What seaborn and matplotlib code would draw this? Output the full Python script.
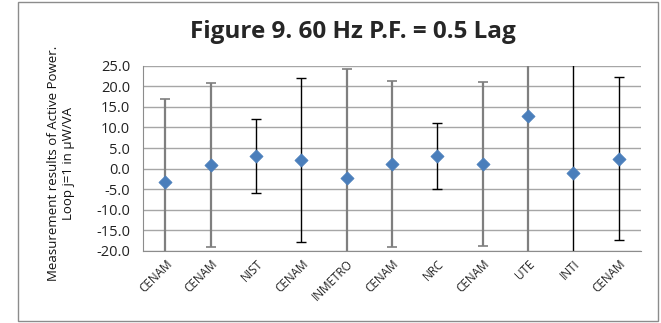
import matplotlib
matplotlib.use("Agg")
import matplotlib.pyplot as plt
import seaborn as sns
import pandas as pd
from matplotlib.patches import Rectangle

labs = ["CENAM", "CENAM", "NIST", "CENAM", "INMETRO", "CENAM", "NRC", "CENAM", "UTE", "INTI", "CENAM"]
values = [-3.4, 0.9, 3.0, 2.0, -2.2, 1.1, 3.0, 1.1, 12.8, -1.1, 2.4]
errs = [20.3, 20.0, 9.0, 20.0, 26.5, 20.1, 8.1, 20.0, 40.0, 30.0, 19.9]
err_style = ["gray", "gray", "black", "black", "gray", "gray", "black", "gray", "gray", "black", "black"]
yticks = [25.0, 20.0, 15.0, 10.0, 5.0, 0.0, -5.0, -10.0, -15.0, -20.0]

sns.set_style("white")
plt.rcParams['font.family'] = ['Open Sans', 'DejaVu Sans']

fig = plt.figure(figsize=(6.61, 3.23), dpi=100)
ax = fig.add_axes([0.216, 0.224, 0.754, 0.572])

df = pd.DataFrame({"x": range(len(labs)), "lab": labs, "v": values, "e": errs, "s": err_style})

for i, r in df.iterrows():
    if r.s == "gray":
        ax.errorbar(r.x, r.v, yerr=r.e, fmt="none", ecolor="#7f7f7f", elinewidth=1.6, capsize=3.5, capthick=1.2, zorder=2)
    else:
        ax.errorbar(r.x, r.v, yerr=r.e, fmt="none", ecolor="black", elinewidth=1.0, capsize=3.5, capthick=1.0, zorder=2)

sns.scatterplot(data=df, x="x", y="v", marker="D", s=45, color="#4a7ebb", edgecolor="#4a7ebb", linewidth=0.5, ax=ax, zorder=3, legend=False)

ax.set_xlim(-0.5, len(labs) - 0.5)
ax.set_ylim(-20, 25)
ax.set_yticks(yticks)
ax.set_yticklabels([f"{t:.1f}" for t in yticks], fontsize=10.5, color="#222222")
ax.set_xticks(range(len(labs)))
ax.set_xticklabels(labs, rotation=45, ha="right", rotation_mode="anchor", fontsize=8.5, color="#222222")
ax.tick_params(axis="y", length=0, pad=9)
ax.tick_params(axis="x", length=0, pad=5)
ax.set_xlabel("")
ax.set_ylabel("Measurement results of Active Power.\nLoop j=1 in µW/VA", fontsize=9.5, linespacing=1.25, color="#111111")
ax.yaxis.set_label_coords(-0.135, 0.47)
ax.grid(axis="y", color="#a6a6a6", linewidth=1.0)
ax.set_axisbelow(True)
for sp in ["top", "right"]:
    ax.spines[sp].set_visible(False)
ax.spines["left"].set_color("#8c8c8c")
ax.spines["bottom"].set_color("#8c8c8c")

fig.text(0.534, 0.9, "Figure 9. 60 Hz P.F. = 0.5 Lag", ha="center", va="center", fontsize=17.5, fontweight="bold")

fig.patches.append(Rectangle((0.027, 0.005), 0.968, 0.988, transform=fig.transFigure, fill=False, edgecolor="#8c8c8c", linewidth=1.0))

fig.savefig("out.png", dpi=100)
